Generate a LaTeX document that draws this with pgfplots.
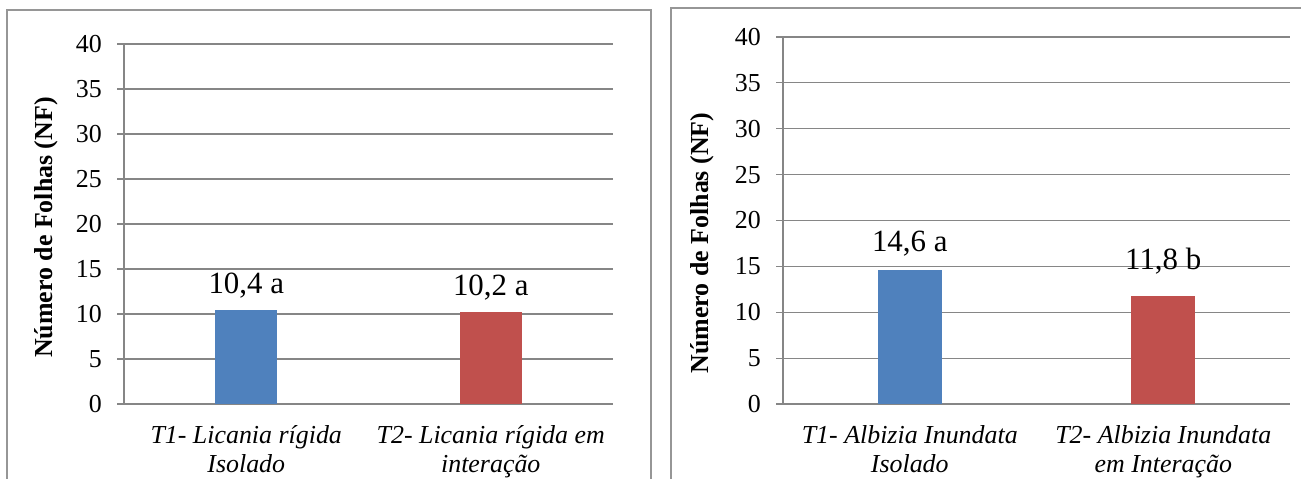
\documentclass[border=0pt]{standalone}
\usepackage{pgfplots}
\pgfplotsset{compat=1.18}
\usepackage{fontspec}
\setmainfont{Liberation Serif}

\definecolor{barblue}{RGB}{79,129,189}
\definecolor{barred}{RGB}{192,80,77}
\definecolor{gridgray}{RGB}{134,134,134}
\definecolor{framegray}{RGB}{150,150,150}

\pgfplotsset{
  folhas/.style={
    scale only axis,
    anchor=south west,
    ymin=0, ymax=40, ytick={0,5,...,40},
    xmin=-0.5, xmax=1.5,
    xtick={0,1},
    axis lines*=left,
    axis line style={gridgray, line width=1.2bp},
    ymajorgrids,
    major grid style={gridgray, line width=1.2bp},
    major tick length=7bp,
    tick align=outside,
    ytick style={gridgray, line width=1.2bp},
    xtick style={draw=none},
    /pgf/number format/assume math mode=true,
    yticklabel style={font=\fontsize{26}{30}\selectfont, anchor=east, inner sep=0pt, xshift=-15bp},
    xticklabel style={font=\fontsize{26}{29.5}\selectfont\itshape, align=center, anchor=north, inner sep=0pt, yshift=-14bp},
    ylabel={Número de Folhas (NF)},
    ybar, bar shift=0pt,
    nodes near coords,
    point meta=explicit symbolic,
    visualization depends on={\thisrow{sh} \as \labshift},
    every node near coord/.append style={font=\fontsize{31}{36}\selectfont, anchor=base, inner sep=0pt, yshift=\labshift bp, black},
  },
  % y label placed by its centre, bold, read bottom to top
  ylab/.style 2 args={
    every axis y label/.style={at={(axis description cs:#1,#2)}, rotate=90, anchor=center,
      inner sep=0pt, font=\fontsize{26}{30}\selectfont\bfseries},
  },
}

\begin{document}
\begin{tikzpicture}[x=1bp, y=1bp]
\path[use as bounding box] (0,0) rectangle (1301,479);
\clip (0,0) rectangle (1301,479);

% panel frames
\draw[framegray, line width=1.5bp] (7,469) rectangle (651,-30);
\draw[framegray, line width=1.5bp] (671,471) rectangle (1340,-30);

% Licania rigida
\begin{axis}[folhas,
  at={(124bp,75bp)}, width=489bp, height=360bp,
  bar width=62bp,
  xticklabels={{T1- Licania rígida\\Isolado},{T2- Licania rígida em\\interação}},
  ylab={-0.1595}{0.490},
]
\addplot[fill=barblue, draw=none] table[x=x, y=y, meta=lbl] {
x y lbl sh
0 10.4 {10,4 a} 17
};
\addplot[fill=barred, draw=none] table[x=x, y=y, meta=lbl] {
x y lbl sh
1 10.2 {10,2 a} 17
};
\end{axis}

% Albizia inundata
\begin{axis}[folhas,
  at={(783bp,75bp)}, width=507bp, height=367bp,
  bar width=64bp,
  xticklabels={{T1- Albizia Inundata\\Isolado},{T2- Albizia Inundata\\em Interação}},
  ylab={-0.1598}{0.4387},
]
\addplot[fill=barblue, draw=none] table[x=x, y=y, meta=lbl] {
x y lbl sh
0 14.6 {14,6 a} 19
};
\addplot[fill=barred, draw=none] table[x=x, y=y, meta=lbl] {
x y lbl sh
1 11.8 {11,8 b} 26
};
\end{axis}
\end{tikzpicture}
\end{document}
